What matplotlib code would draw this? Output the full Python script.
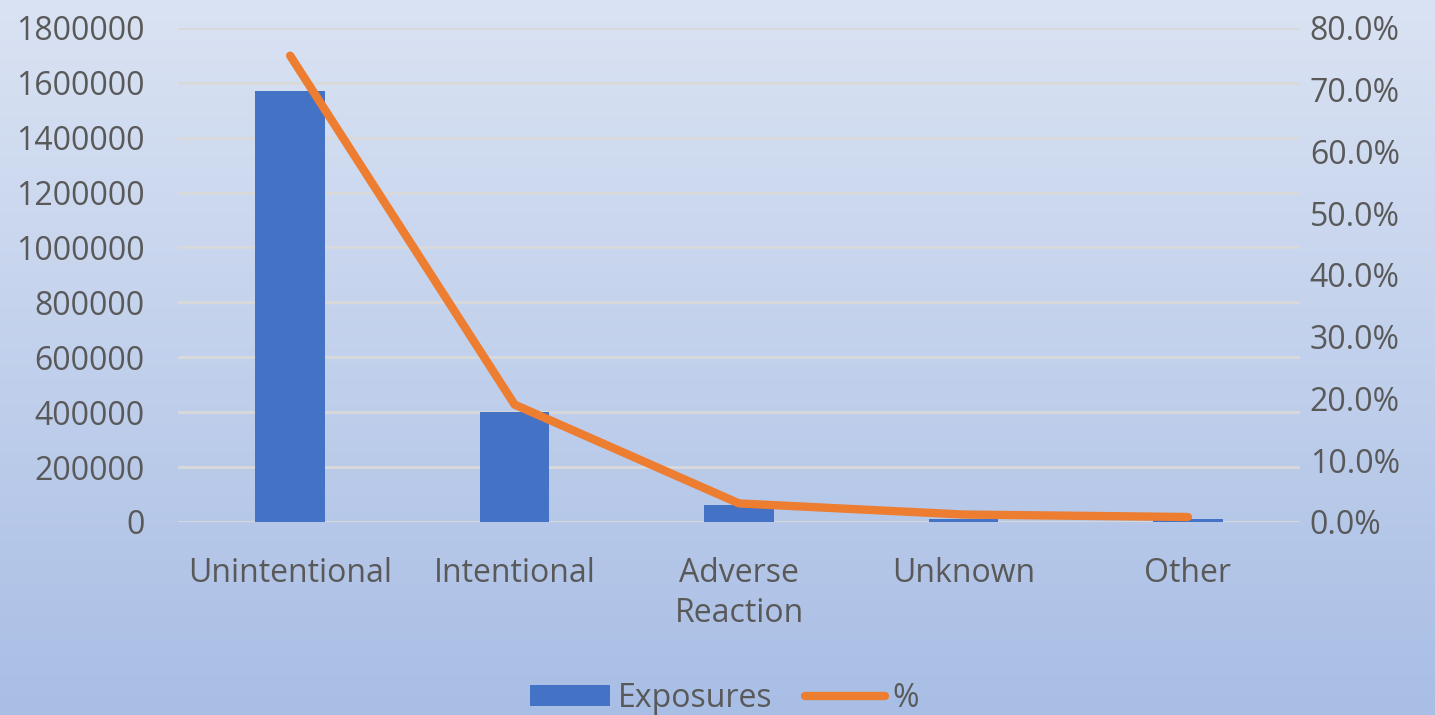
import numpy as np
import matplotlib.pyplot as plt
from matplotlib.colors import LinearSegmentedColormap
from matplotlib.ticker import FuncFormatter, MultipleLocator

# poison exposure reasons
categories = ['Unintentional', 'Intentional', 'Adverse\nReaction', 'Unknown', 'Other']
exposures = [1570000, 400000, 62000, 11000, 12000]
percent = [75.5, 19.0, 3.0, 1.2, 0.8]

bar_color = '#4472C4'
line_color = '#ED7D31'
text_color = '#595959'
grid_color = '#D9D9D9'
fs = 23

plt.rcParams['font.family'] = ['Open Sans', 'DejaVu Sans']

fig = plt.figure(figsize=(14.35, 7.15), dpi=100)

# vertical gradient background behind everything
bg = fig.add_axes([0, 0, 1, 1], zorder=-10)
cmap = LinearSegmentedColormap.from_list('bg', ['#DAE3F3', '#A9BEE5'])
bg.imshow(np.linspace(0, 1, 256).reshape(-1, 1), aspect='auto', cmap=cmap,
          extent=[0, 1, 0, 1])
bg.axis('off')

ax = fig.add_axes([0.124, 0.270, 0.782, 0.691])
ax.patch.set_alpha(0)
x = np.arange(len(categories))
ax.bar(x, exposures, width=0.31, color=bar_color, zorder=3, label='Exposures')
ax.set_xlim(-0.5, len(categories) - 0.5)
ax.set_ylim(0, 1800000)
ax.yaxis.set_major_locator(MultipleLocator(200000))
ax.yaxis.set_major_formatter(FuncFormatter(lambda v, p: f'{int(v)}'))
ax.grid(axis='y', color=grid_color, linewidth=2, zorder=0)
ax.set_xticks(x)
ax.set_xticklabels(categories, linespacing=1.3)
ax.tick_params(axis='both', length=0, labelsize=fs, colors=text_color)
ax.tick_params(axis='x', pad=25)
ax.tick_params(axis='y', pad=24)
for s in ax.spines.values():
    s.set_visible(False)

ax2 = ax.twinx()
ax2.plot(x, percent, color=line_color, linewidth=6, solid_capstyle='round',
         solid_joinstyle='round', zorder=4, label='%')
ax2.set_ylim(0, 80)
ax2.yaxis.set_major_locator(MultipleLocator(10))
ax2.yaxis.set_major_formatter(FuncFormatter(lambda v, p: f'{v:.1f}%'))
ax2.tick_params(axis='y', length=0, labelsize=fs, colors=text_color, pad=7)
for s in ax2.spines.values():
    s.set_visible(False)

h1, l1 = ax.get_legend_handles_labels()
h2, l2 = ax2.get_legend_handles_labels()
fig.legend(h1 + h2, l1 + l2, loc='lower center', bbox_to_anchor=(0.505, -0.04),
           ncol=2, frameon=False, fontsize=fs, labelcolor=text_color,
           handlelength=2.5, handleheight=0.65, columnspacing=1.0, handletextpad=0.25)

fig.savefig('out.png', dpi=100)
